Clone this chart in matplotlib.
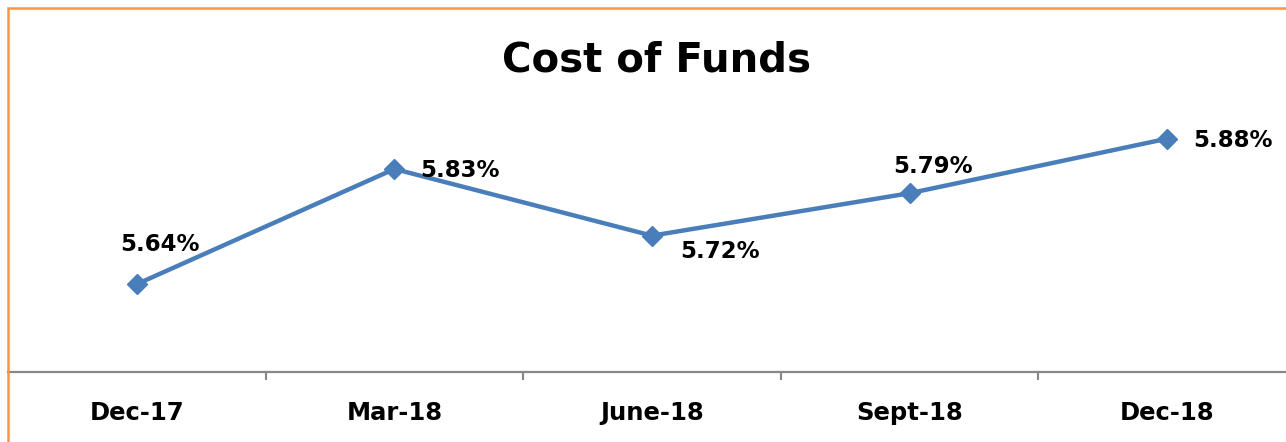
import matplotlib
matplotlib.use("Agg")
import matplotlib.pyplot as plt
from matplotlib.patches import Rectangle

# data
quarters = ["Dec-17", "Mar-18", "June-18", "Sept-18", "Dec-18"]
cost_of_funds = [5.64, 5.83, 5.72, 5.79, 5.88]
# label offsets in pixels (dx, dy, ha) for each point
label_offsets = [(23, 40, "center"), (26, -2, "left"), (28, -16, "left"),
                 (23, 27, "center"), (26, -2, "left")]

W, H = 1286, 442
fig = plt.figure(figsize=(W / 100, H / 100), dpi=100)

# axes runs from x=8 to beyond the right edge (chart looks cropped)
ax = fig.add_axes([8 / W, (H - 372) / H, 1288 / W, (372 - 69) / H])
ax.set_xlim(-0.5, 4.5)
ax.set_ylim(5.495, 5.995)

line_col = "#4A7EBB"
xs = list(range(len(quarters)))
ax.plot(xs, cost_of_funds, color=line_col, lw=3.2, marker="D", markersize=10,
        markerfacecolor=line_col, markeredgecolor=line_col, zorder=3)

for x, v, (dx, dy, ha) in zip(xs, cost_of_funds, label_offsets):
    ax.annotate(f"{v:.2f}%", (x, v), xytext=(dx, dy), textcoords="offset pixels",
                ha=ha, va="center", fontsize=16.5, fontweight="bold", color="black")

for s in ["top", "right", "left"]:
    ax.spines[s].set_visible(False)
ax.spines["bottom"].set_color("#878787")
ax.spines["bottom"].set_linewidth(1.6)
ax.set_yticks([])
ax.set_xticks(xs)
ax.set_xticklabels(quarters, fontsize=17.5, fontweight="bold")
ax.tick_params(axis="x", which="major", length=0, pad=21)
ax.set_xticks([0.5, 1.5, 2.5, 3.5], minor=True)
ax.tick_params(axis="x", which="minor", length=6, width=1.5, color="#878787")

fig.text(657 / W, 1 - 60 / H, "Cost of Funds", ha="center", va="center",
         fontsize=29, fontweight="bold")

# orange chart border (cropped at right and bottom)
fig.patches.append(Rectangle((8 / W, -0.1), 1.2, 1 - 8 / H + 0.1, transform=fig.transFigure,
                             fill=False, edgecolor="#F79646", lw=1.8))

fig.savefig("out.png", dpi=100)
